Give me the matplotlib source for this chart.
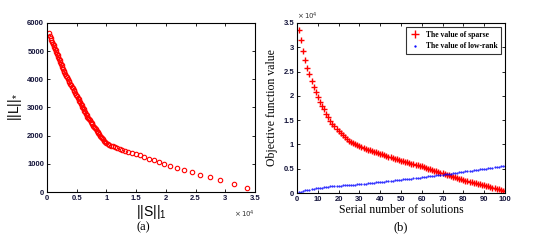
import numpy as np
import matplotlib
matplotlib.use('Agg')
import matplotlib.pyplot as plt
from matplotlib.ticker import FuncFormatter

# solution index 1..100
solution_idx = list(range(1, 101))

# sparse term ||S||_1 for each solution
sparse_vals = [33600, 31500, 29200, 27400, 25800, 24400, 23100, 21900, 20700, 19700,
               18800, 18000, 17200, 16300, 15600, 14900, 14300, 13700, 13200, 12700,
               12250, 11850, 11450, 11100, 10800, 10500, 10250, 10000, 9800, 9600,
               9430, 9270, 9110, 8950, 8800, 8650, 8500, 8360, 8220, 8080,
               7930, 7780, 7640, 7500, 7360, 7220, 7080, 6940, 6800, 6660,
               6540, 6420, 6300, 6180, 6060, 5940, 5820, 5700, 5580, 5460,
               5320, 5180, 5040, 4900, 4760, 4620, 4480, 4340, 4200, 4060,
               3920, 3780, 3640, 3500, 3360, 3220, 3080, 2940, 2800, 2660,
               2550, 2440, 2330, 2220, 2110, 2000, 1890, 1780, 1680, 1580,
               1460, 1340, 1220, 1100, 980, 860, 740, 620, 500, 380]

# low-rank term ||L||_* for each solution
lowrank_vals = [154, 297, 428, 534, 618, 713, 796, 867, 938, 1009,
                1057, 1128, 1176, 1230, 1300, 1340, 1380, 1420, 1460, 1500,
                1530, 1560, 1590, 1620, 1650, 1680, 1710, 1745, 1780, 1820,
                1865, 1910, 1955, 2000, 2045, 2090, 2135, 2180, 2225, 2270,
                2315, 2360, 2405, 2450, 2495, 2540, 2585, 2630, 2680, 2730,
                2780, 2830, 2880, 2930, 2980, 3030, 3080, 3130, 3185, 3240,
                3295, 3350, 3405, 3460, 3515, 3570, 3625, 3680, 3735, 3790,
                3845, 3900, 3955, 4010, 4070, 4130, 4190, 4250, 4310, 4370,
                4430, 4490, 4550, 4610, 4670, 4730, 4790, 4850, 4910, 4970,
                5030, 5090, 5150, 5210, 5270, 5330, 5400, 5470, 5550, 5640]

left_xticks = [0, 5000, 10000, 15000, 20000, 25000, 30000, 35000]
left_yticks = [0, 1000, 2000, 3000, 4000, 5000, 6000]
right_xticks = [0, 10, 20, 30, 40, 50, 60, 70, 80, 90, 100]
right_yticks = [0, 5000, 10000, 15000, 20000, 25000, 30000, 35000]

sci_fmt = FuncFormatter(lambda v, p: '%g' % (v / 1e4))


def style_axes(ax):
    ax.tick_params(direction='in', top=True, right=True, length=2.5, width=0.6,
                   pad=2, labelsize=5.5, labelcolor='#14143a')
    for lab in ax.get_xticklabels() + ax.get_yticklabels():
        lab.set_fontweight('bold')
        lab.set_family('Liberation Sans')
    for sp in ax.spines.values():
        sp.set_linewidth(0.8)


fig = plt.figure(figsize=(5.5, 2.44), dpi=100)

# (a) ||L||_* vs ||S||_1
ax1 = fig.add_axes([0.0855, 0.213, 0.378, 0.693])
ax1.plot(sparse_vals, lowrank_vals, 'o', mfc='none', mec='red', ms=3.2, mew=0.8)
ax1.set_xlim(0, 35000)
ax1.set_ylim(0, 6000)
ax1.set_xticks(left_xticks)
ax1.set_yticks(left_yticks)
ax1.xaxis.set_major_formatter(sci_fmt)
style_axes(ax1)
ax1.set_xlabel('||S||$_\\mathregular{1}$', fontsize=10, family='Liberation Sans',
               labelpad=1)
ax1.set_ylabel('||L||$_\\mathregular{*}$', fontsize=10, family='Liberation Sans',
               labelpad=2)
ax1.text(1.0, -0.13, r'$\times\,10^4$', transform=ax1.transAxes, ha='right',
         va='center', fontsize=5, color='#333333')
fig.text(0.26, 0.07, '(a)', ha='center', va='center', fontsize=9,
         family='Liberation Serif')

# (b) objective value vs solution index
ax2 = fig.add_axes([0.54, 0.209, 0.378, 0.697])
ax2.plot(solution_idx, sparse_vals, '+', color='red', ms=4, mew=1.0,
         label='The value of sparse')
ax2.plot(solution_idx, lowrank_vals, '.', color='blue', ms=1.0,
         label='The value of low-rank')
ax2.set_xlim(0, 100)
ax2.set_ylim(0, 35000)
ax2.set_xticks(right_xticks)
ax2.set_yticks(right_yticks)
ax2.yaxis.set_major_formatter(sci_fmt)
style_axes(ax2)
ax2.set_xlabel('Serial number of solutions', fontsize=8.5,
               family='Liberation Serif', labelpad=1)
ax2.set_ylabel('Objective function value', fontsize=8.5,
               family='Liberation Serif', labelpad=4)
ax2.text(0.0, 1.04, r'$\times\,10^4$', transform=ax2.transAxes, ha='left',
         va='center', fontsize=5, color='#333333')
leg = ax2.legend(loc='upper right', frameon=True, fancybox=False,
                 edgecolor='black', borderpad=0.5, handlelength=1.2,
                 markerscale=1.3,
                 prop=dict(family='Liberation Serif', weight='bold', size=5.5))
leg.get_frame().set_linewidth(0.8)
fig.text(0.728, 0.07, '(b)', ha='center', va='center', fontsize=9,
         family='Liberation Serif')

fig.savefig('out.png', dpi=100)
